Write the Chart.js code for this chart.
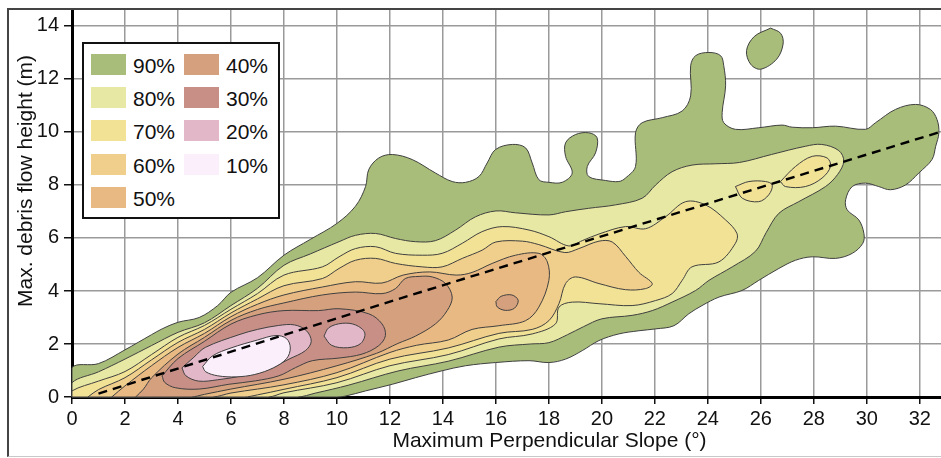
<!DOCTYPE html>
<html><head><meta charset="utf-8">
<script src="https://cdn.jsdelivr.net/npm/chart.js@4/dist/chart.umd.min.js"></script>
<style>
html,body{margin:0;padding:0;background:#fff;overflow:hidden}
#wrap{position:relative;width:941px;height:458px;overflow:hidden}
canvas{position:absolute;left:0;top:0}
#frame{position:absolute;left:7px;top:8px;width:980px;height:449px;border-left:2px solid #444;border-top:2px solid #444;border-bottom:1px solid #c8c8c8;box-sizing:border-box;pointer-events:none}
#legend{position:absolute;left:82px;top:42px;width:198px;height:177px;border:2px solid #111;background:#fff;box-sizing:border-box;font-family:"Liberation Sans",Arial,sans-serif;font-size:21px;color:#111}
.sw{position:absolute;width:35px;height:21px}
.lt{position:absolute;line-height:21px;white-space:nowrap}
</style></head><body>
<div id="wrap"><canvas id="c" width="941" height="458"></canvas><div id="frame"></div><div id="legend"></div></div>
<script>
// ---------- data ----------
const xTicks = [0,2,4,6,8,10,12,14,16,18,20,22,24,26,28,30,32];
const yTicks = [0,2,4,6,8,10,12,14];
const legendLabels = ['90%','80%','70%','60%','50%','40%','30%','20%','10%'];
const xTitle = 'Maximum Perpendicular Slope (°)';
const yTitle = 'Max. debris flow height (m)';

const c90 = [[0,0],[0,1.11],[1,1.26],[2,1.78],[3,2.35],[3.4,2.57],[4,2.82],[4.8,3.0],[5.5,3.45],[6,3.95],[7,4.5],[8,5.35],[9,5.95],[10,6.55],[10.7,7.2],[11.08,7.94],[11.2,8.58],[11.58,9.02],[12.09,9.15],[12.84,8.96],[13.72,8.45],[14.35,8.13],[14.86,8.1],[15.36,8.32],[15.67,8.83],[15.99,9.34],[16.62,9.53],[17.12,9.4],[17.37,8.83],[17.62,8.2],[18.0,8.1],[18.5,8.1],[18.88,8.45],[18.63,9.08],[18.63,9.59],[19.0,9.9],[19.5,9.97],[19.82,9.78],[19.76,9.21],[19.45,8.7],[19.5,8.32],[20.14,8.17],[20.64,8.13],[20.89,8.26],[21.27,8.7],[21.27,9.97],[21.52,10.35],[22.28,10.54],[23.03,10.79],[23.35,11.36],[23.35,12.5],[23.54,12.88],[24.04,13.0],[24.48,12.88],[24.6,12.5],[24.67,11.74],[24.54,10.73],[24.6,10.35],[25.04,10.1],[25.92,10.16],[26.8,10.26],[27.18,10.18],[27.94,10.16],[28.82,10.22],[29.95,10.1],[30.33,10.35],[31.08,10.85],[31.84,11.04],[32.4,10.85],[32.65,10.47],[32.72,9.97],[32.6,9.46],[32.46,8.96],[31.96,8.45],[31.46,8.0],[30.89,7.82],[30.45,7.94],[29.95,8.07],[29.45,7.94],[29.2,7.44],[29.26,7.06],[29.7,6.68],[29.89,6.17],[29.85,5.8],[29.45,5.42],[28.82,5.23],[27.94,5.29],[27.31,5.16],[26.68,4.85],[25.92,4.4],[25.29,4.02],[24.42,3.77],[23.78,3.45],[23.28,3.14],[22.72,2.69],[22.03,2.57],[21.4,2.5],[20.64,2.38],[19.89,2.13],[19.26,1.75],[18.63,1.43],[18.0,1.3],[17.25,1.37],[15.99,1.3],[14.86,1.18],[13.97,0.99],[12.97,0.73],[12.09,0.48],[11.08,0.23],[10.3,0.03],[10,0],[0,0]];
const c90b = [[26.37,13.92],[26.75,13.72],[26.84,13.32],[26.6,12.75],[26.0,12.37],[25.62,12.55],[25.46,13.07],[25.75,13.6],[26.37,13.92]];
const c80 = [[0,0],[0,0.54],[1,0.95],[2,1.43],[3,1.94],[4,2.44],[5,2.8],[6,3.45],[7,4.1],[8,4.97],[9,5.4],[10.08,5.86],[10.7,6.1],[11.46,6.17],[12.21,5.98],[12.97,5.86],[13.72,5.9],[14.48,6.3],[15.23,6.8],[16.0,7.02],[16.74,6.95],[18.0,6.87],[18.63,6.99],[19.5,7.12],[20.52,7.25],[21.52,7.5],[22.03,8.0],[22.65,8.5],[23.4,8.75],[24.3,8.8],[25.2,8.85],[26.4,9.15],[27.68,9.46],[28.3,9.53],[28.94,9.3],[29.13,8.9],[28.9,8.4],[28.44,7.94],[27.43,7.37],[26.68,6.93],[26.2,6.2],[25.8,5.5],[24.92,4.91],[24.04,4.4],[23.54,4.02],[22.65,3.58],[21.9,3.26],[21.14,3.08],[20.0,2.95],[19.3,2.65],[18.7,2.35],[18.0,2.05],[17.3,2.0],[16.11,1.88],[14.2,1.35],[12.3,0.98],[10.45,0.45],[9.2,0.15],[8.5,0],[0,0]];
const c70 = [[0,0],[0,0.23],[1,0.6],[2,0.96],[3,1.6],[4,2.25],[5,2.7],[6,3.31],[7,3.9],[8,4.6],[9.45,4.91],[10.08,5.29],[10.7,5.6],[11.46,5.67],[12.21,5.42],[13.22,5.35],[13.97,5.42],[14.73,5.8],[15.48,6.24],[16.24,6.43],[17.25,6.3],[18.0,6.05],[18.75,5.7],[19.26,5.9],[19.89,6.15],[20.89,6.43],[21.65,6.35],[22.4,6.8],[23.16,7.37],[23.91,7.25],[24.67,6.68],[25.1,6.17],[25.04,5.8],[24.42,5.1],[23.4,4.91],[23.03,4.4],[22.65,3.9],[22.03,3.64],[21.14,3.45],[19.89,3.52],[18.88,3.58],[18.38,3.39],[18.25,2.76],[17.37,2.38],[16.11,2.19],[14.2,1.6],[12,1.18],[10,0.54],[8,0.16],[7.4,0],[0,0]];
const c70b = [[25.04,7.94],[25.55,8.13],[26.18,8.13],[26.43,8.0],[26.3,7.63],[25.92,7.37],[25.3,7.5],[25.04,7.94]];
const c70c = [[26.74,8.13],[27.31,8.7],[27.94,9.08],[28.5,9.02],[28.63,8.7],[28.31,8.26],[27.68,7.94],[26.93,7.94],[26.74,8.13]];
const c60 = [[0.6,0],[1,0.28],[2,0.73],[3,1.4],[4,2.06],[5,2.55],[6,3.17],[7,3.7],[8,4.2],[9.45,4.47],[10.08,4.85],[10.7,5.16],[11.46,5.23],[12.21,5.04],[13.22,4.91],[13.97,4.91],[14.73,5.23],[15.48,5.54],[16.0,5.85],[17.0,5.88],[17.62,5.75],[18.6,5.45],[19.13,5.6],[19.89,5.88],[20.39,5.85],[20.9,5.3],[21.4,4.7],[21.9,4.28],[21.65,4.09],[20.89,4.05],[19.89,4.28],[19.0,4.53],[18.63,4.28],[18.38,3.52],[18.0,2.88],[17.37,2.55],[16.11,2.4],[14.2,1.85],[12,1.43],[10,0.73],[8,0.29],[7,0.08],[6.5,0],[0.6,0]];
const c50 = [[1.5,0],[2,0.42],[3,1.18],[4,1.87],[5,2.4],[6,3.03],[7,3.5],[8,3.85],[9.45,4.15],[10.7,4.35],[11.7,4.3],[12.5,4.6],[13.5,4.72],[14.5,4.6],[15.1,4.7],[15.86,5.04],[16.74,5.35],[17.62,5.42],[17.94,5.1],[18.0,4.4],[17.62,3.39],[17.12,2.88],[16.11,2.69],[15.1,2.55],[14.2,2.15],[13,1.95],[12,1.68],[10,0.92],[8,0.46],[6,0.15],[5.3,0],[1.5,0]];
const c40 = [[2.4,0],[2.7,0.3],[3,0.72],[4,1.62],[5,2.25],[6,2.89],[7,3.3],[8,3.55],[9.45,3.85],[10.7,3.96],[11.7,3.9],[12.21,4.09],[12.58,4.47],[13.1,4.55],[13.6,4.53],[14.1,4.28],[14.35,3.77],[14.16,3.26],[13.72,2.76],[12.97,2.3],[12.3,2.02],[11.5,1.65],[10,1.18],[8,0.67],[6,0.3],[5,0.1],[4.5,0],[2.4,0]];
const c40b = [[16.0,3.6],[16.2,3.8],[16.6,3.85],[16.84,3.65],[16.7,3.35],[16.35,3.27],[16.05,3.4],[16.0,3.6]];
const c30 = [[3.4,0.8],[4,1.45],[5,2.1],[6,2.75],[7,3.1],[8,3.26],[9.3,3.26],[10.08,3.33],[11.2,3.14],[11.7,2.76],[11.83,2.32],[11.58,1.94],[10.95,1.62],[10.08,1.47],[9.07,1.37],[8.44,1.11],[7.81,0.8],[6.93,0.61],[5.92,0.48],[4.8,0.3],[3.9,0.35],[3.5,0.55],[3.4,0.8]];
const c20 = [[4.15,1.1],[4.6,1.5],[5.03,1.87],[6.3,2.35],[7.0,2.55],[7.8,2.7],[8.4,2.72],[8.85,2.5],[9.03,2.1],[8.81,1.75],[8.19,1.43],[7.43,1.05],[6.43,0.8],[5.5,0.65],[4.78,0.6],[4.3,0.8],[4.15,1.1]];
const c20b = [[9.51,2.3],[9.7,2.62],[10.2,2.78],[10.7,2.72],[11.05,2.42],[10.9,2.02],[10.4,1.86],[9.8,1.95],[9.51,2.3]];
const c10 = [[4.93,1.15],[5.3,1.55],[6.0,1.85],[7.0,2.15],[7.7,2.32],[8.1,2.2],[8.24,1.85],[8.1,1.45],[7.6,1.1],[6.9,0.85],[6.2,0.76],[5.5,0.8],[5.05,0.95],[4.93,1.15]];
const trend = [[1,0.13],[12,3.6],[32.7,9.98]];

// ---------- styles ----------
const FONT = '"Liberation Sans", Arial, sans-serif';
const levelColors = ['rgb(168,189,121)','rgb(231,232,163)','rgb(242,226,150)','rgb(240,206,140)','rgb(232,185,130)','rgb(213,160,125)','rgb(200,143,135)','rgb(226,183,199)','rgb(251,239,251)'];
const contourSets = [[c90,c90b],[c80],[c70,c70b,c70c],[c60],[c50],[c40,c40b],[c30],[c20,c20b],[c10]];

const datasets = [];
contourSets.forEach((polys, li) => {
  polys.forEach(p => {
    datasets.push({
      data: p.map(q => ({x:q[0], y:q[1]})),
      showLine: true, fill: 'shape', clip: false,
      backgroundColor: levelColors[li], borderColor: '#404040', borderWidth: 1,
      tension: 0.35, pointRadius: 0, order: 20 - li
    });
  });
});
datasets.push({
  data: trend.map(q => ({x:q[0], y:q[1]})),
  showLine: true, fill: false, borderColor: '#000', borderWidth: 2.4,
  borderDash: [9,6], tension: 0, pointRadius: 0, order: 0
});

// ---------- legend (HTML) ----------
const lg = document.getElementById('legend');
legendLabels.forEach((t, i) => {
  const col = i < 5 ? 0 : 1, row = i < 5 ? i : i - 5;
  const top = 9.5 + row * 33.4;
  const sw = document.createElement('div');
  sw.className = 'sw'; sw.style.left = (col ? 100 : 7) + 'px'; sw.style.top = top + 'px';
  sw.style.background = levelColors[i];
  const tx = document.createElement('div');
  tx.className = 'lt'; tx.style.left = (col ? 142 : 49) + 'px'; tx.style.top = (top + 1) + 'px';
  tx.textContent = t;
  lg.appendChild(sw); lg.appendChild(tx);
});

const titles = {
  id: 'titles',
  afterDraw(chart) {
    const c = chart.ctx;
    c.save();
    c.fillStyle = '#111';
    c.font = '21px ' + FONT;
    c.textAlign = 'center'; c.textBaseline = 'middle';
    c.fillText(xTitle, 549.5, 441);
    c.translate(26, 181); c.rotate(-Math.PI/2);
    c.fillText(yTitle, 0, 0);
    c.restore();
  }
};

function noPad(s) { s.paddingTop = 0; s.paddingBottom = 0; s.paddingLeft = 0; s.paddingRight = 0; }

new Chart(document.getElementById('c'), {
  type: 'scatter',
  data: { datasets },
  options: {
    responsive: false, animation: false, events: [],
    layout: { padding: { top: 9, left: 0, right: 0, bottom: 0 } },
    plugins: { legend: { display: false }, tooltip: { enabled: false } },
    scales: {
      x: {
        type: 'linear', min: 0, max: 32.8, z: 1,
        afterFit(s) { s.height = 61; noPad(s); },
        afterBuildTicks(s) { s.ticks = xTicks.map(v => ({ value: v })); },
        ticks: { font: { size: 20, family: FONT }, color: '#111', padding: 3, maxRotation: 0, autoSkip: false },
        grid: { color: '#9a9a9a', lineWidth: 1.5, tickColor: '#111', tickLength: 7, tickWidth: 1.5 },
        border: { color: '#000', width: 3 }
      },
      y: {
        type: 'linear', min: 0, max: 14.64, z: 1,
        afterFit(s) { s.width = 72; noPad(s); },
        afterBuildTicks(s) { s.ticks = yTicks.map(v => ({ value: v })); },
        ticks: { font: { size: 20, family: FONT }, color: '#111', padding: 5, autoSkip: false },
        grid: { color: '#9a9a9a', lineWidth: 1.5, tickColor: '#111', tickLength: 8, tickWidth: 1.5 },
        border: { color: '#000', width: 3 }
      }
    }
  },
  plugins: [titles]
});
</script>
</body></html>
